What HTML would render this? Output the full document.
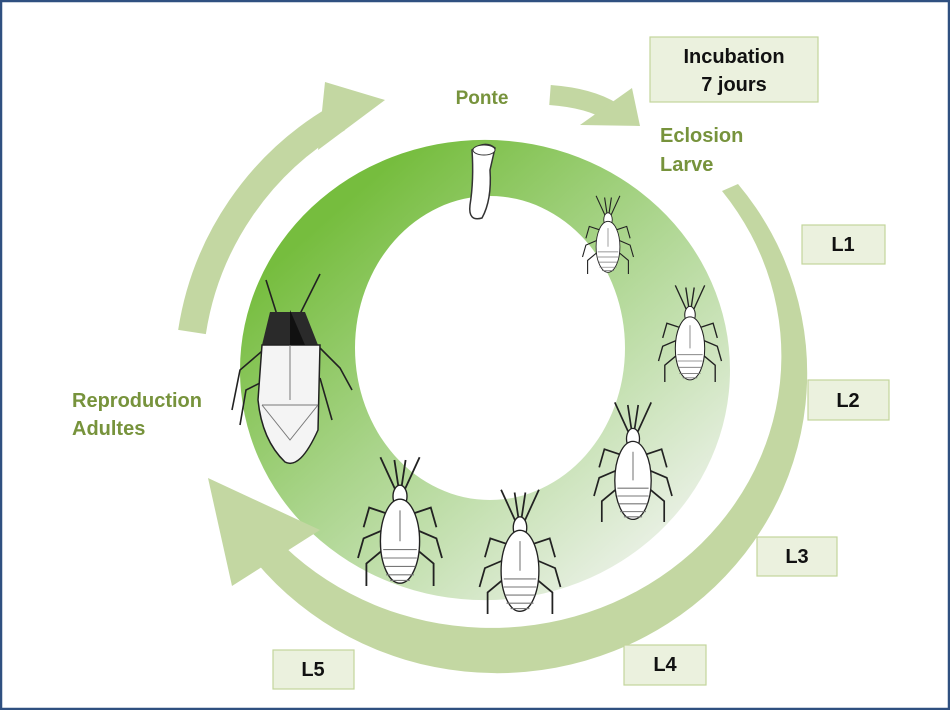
<!DOCTYPE html>
<html><head><meta charset="utf-8"><style>
html,body{margin:0;padding:0;background:#fff}
svg{display:block}
text{font-family:"Liberation Sans",sans-serif;font-weight:bold}
</style></head><body>
<svg width="950" height="710" viewBox="0 0 950 710" xmlns="http://www.w3.org/2000/svg">
<defs>
<linearGradient id="rg" x1="0.2" y1="0.15" x2="0.85" y2="0.85">
<stop offset="0" stop-color="#76bd3e"/>
<stop offset="0.45" stop-color="#a9d48a"/>
<stop offset="1" stop-color="#e6efe0"/>
</linearGradient>
<g id="bug">
<g stroke="#222" stroke-width="1.3" fill="none">
<path d="M-3,-28 L-14,-52 M3,-28 L14,-52 M-1,-30 L-4,-50 M1,-30 L4,-50"/>
<path d="M-10,-12 L-22,-16 L-26,-2 M-12,0 L-26,6 L-30,20 M-12,14 L-24,24 L-24,40"/>
<path d="M10,-12 L22,-16 L26,-2 M12,0 L26,6 L30,20 M12,14 L24,24 L24,40"/>
</g>
<ellipse cx="0" cy="-24" rx="5" ry="8" fill="#fff" stroke="#222"/>
<ellipse cx="0" cy="8" rx="14" ry="30" fill="#fff" stroke="#222"/>
<g stroke="#777" stroke-width="0.8"><path d="M-12,14H12M-12,20H12M-11,26H11M-10,32H10M-7,36H7M0,-14V8"/></g>
</g>
</defs>
<rect x="1" y="1" width="948" height="708" fill="#fff" stroke="#2f5080" stroke-width="2.5"/>
<path fill="url(#rg)" fill-rule="evenodd" d="M240,370 a245,230 0 1,0 490,0 a245,230 0 1,0 -490,0 Z M355,348 a135,152 0 1,0 270,0 a135,152 0 1,0 -270,0 Z"/>
<path d="M192,332 A300,300 0 0 1 338,118" fill="none" stroke="#c3d7a2" stroke-width="28"/>
<polygon points="385,100 325,82 318,150" fill="#c3d7a2"/>
<path d="M738,184 A310,300 0 0 1 256,562 L285,547 A290,272 0 0 0 722,191 Z" fill="#c3d7a2"/>
<polygon points="208,478 232,586 320,530" fill="#c3d7a2"/>
<path d="M550,95 Q590,98 612,112" fill="none" stroke="#c3d7a2" stroke-width="20"/>
<polygon points="632,88 640,126 580,125" fill="#c3d7a2"/>
<path d="M472,150 Q485,140 495,148 L490,170 Q492,200 482,218 Q468,222 470,205 Q474,180 472,150 Z" fill="#fff" stroke="#333" stroke-width="1.5"/>
<ellipse cx="484" cy="150" rx="11" ry="5" fill="#fff" stroke="#333"/>
<use href="#bug" transform="translate(608,240) scale(0.85)"/>
<use href="#bug" transform="translate(690,340) scale(1.05)"/>
<use href="#bug" transform="translate(633,470) scale(1.3)"/>
<use href="#bug" transform="translate(520,560) scale(1.35)"/>
<use href="#bug" transform="translate(400,530) scale(1.4)"/>
<g stroke="#222" stroke-width="1.6" fill="none">
<path d="M278,318 L266,280 M298,318 L320,274 M268,346 L240,370 L232,410 M318,346 L340,368 L352,390 M266,380 L246,390 L240,425 M320,378 L332,420"/>
</g>
<path d="M270,312 L305,312 L318,345 L262,345 Z" fill="#2a2a2a"/>
<path d="M262,345 L320,345 L318,430 Q300,470 285,462 Q262,440 258,400 Z" fill="#f4f4f4" stroke="#222" stroke-width="1.5"/>
<path d="M290,345 L290,400 M262,405 L318,405 M262,405 L290,440 L318,405" stroke="#777" fill="none"/>
<path d="M290,310 L290,345 L305,345 Z" fill="#111"/>
<text x="482" y="104" font-size="19" fill="#77933c" text-anchor="middle">Ponte</text>
<text x="660" y="142" font-size="20" fill="#77933c">Eclosion</text>
<text x="660" y="171" font-size="20" fill="#77933c">Larve</text>
<text x="72" y="407" font-size="20" fill="#77933c">Reproduction</text>
<text x="72" y="435" font-size="20" fill="#77933c">Adultes</text>
<g fill="#ebf1de" stroke="#c3d69b" stroke-width="1.2">
<rect x="650" y="37" width="168" height="65"/>
<rect x="802" y="225" width="83" height="39"/>
<rect x="808" y="380" width="81" height="40"/>
<rect x="757" y="537" width="80" height="39"/>
<rect x="624" y="645" width="82" height="40"/>
<rect x="273" y="650" width="81" height="39"/>
</g>
<g font-size="20" fill="#111" text-anchor="middle">
<text x="734" y="63">Incubation</text>
<text x="734" y="91">7 jours</text>
<text x="843" y="251">L1</text>
<text x="848" y="407">L2</text>
<text x="797" y="563">L3</text>
<text x="665" y="671">L4</text>
<text x="313" y="676">L5</text>
</g>
</svg>
</body></html>
